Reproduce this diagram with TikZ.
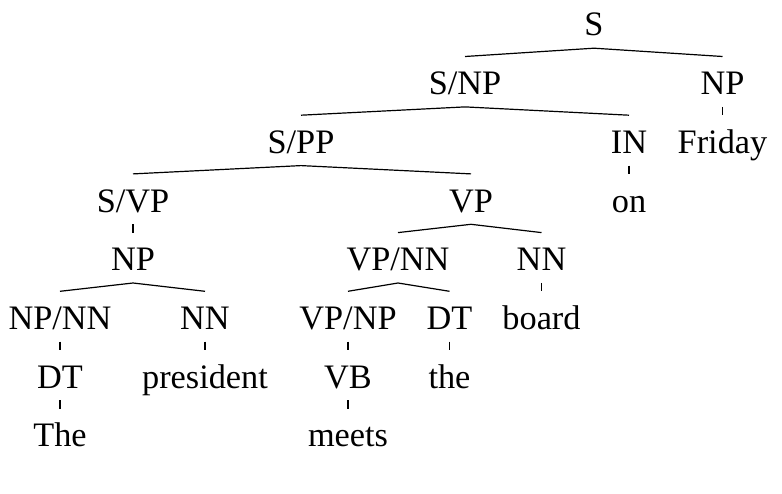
\documentclass[tikz,border=0pt]{standalone}
\usepackage{fontspec}
\setmainfont{Liberation Serif}
\begin{document}
\begin{tikzpicture}[x=1bp,y=-1bp,
  lab/.style={anchor=base,inner xsep=0pt,inner ysep=0pt,text height=38bp,text depth=12bp,
    font=\fontsize{34.3bp}{41bp}\selectfont},
  edge/.style={line width=1.2bp,black}]
\useasboundingbox (0,0) rectangle (782,494);
\def\La{36}\def\Lb{94.7}\def\Lc{153.4}\def\Ld{212.1}\def\Le{270.8}\def\Lf{329.5}\def\Lg{388.2}\def\Lh{446.9}
\node[lab] (S) at (594,\La) {S};
\node[lab] (SNP) at (465,\Lb) {S/NP};
\node[lab] (NPr) at (722.5,\Lb) {NP};
\node[lab] (SPP) at (301,\Lc) {S/PP};
\node[lab] (IN) at (629,\Lc) {IN};
\node[lab] (Friday) at (722.5,\Lc) {Friday};
\node[lab] (SVP) at (133,\Ld) {S/VP};
\node[lab] (VP) at (471,\Ld) {VP};
\node[lab] (on) at (629,\Ld) {on};
\node[lab] (NPl) at (133,\Le) {NP};
\node[lab] (VPNN) at (398,\Le) {VP/NN};
\node[lab] (NNr) at (541.5,\Le) {NN};
\node[lab] (NPNN) at (60,\Lf) {NP/NN};
\node[lab] (NNl) at (205,\Lf) {NN};
\node[lab] (VPNP) at (348,\Lf) {VP/NP};
\node[lab] (DTr) at (449.5,\Lf) {DT};
\node[lab] (board) at (541.5,\Lf) {board};
\node[lab] (DTl) at (60,\Lg) {DT};
\node[lab] (president) at (205,\Lg) {president};
\node[lab] (VB) at (348,\Lg) {VB};
\node[lab] (the) at (449.5,\Lg) {the};
\node[lab] (The) at (60,\Lh) {The};
\node[lab] (meets) at (348,\Lh) {meets};
\draw[edge] (SNP.north) -- (S.south) -- (NPr.north);
\draw[edge] (NPr.south) -- (Friday.north);
\draw[edge] (SPP.north) -- (SNP.south) -- (IN.north);
\draw[edge] (IN.south) -- (on.north);
\draw[edge] (SVP.north) -- (SPP.south) -- (VP.north);
\draw[edge] (SVP.south) -- (NPl.north);
\draw[edge] (VPNN.north) -- (VP.south) -- (NNr.north);
\draw[edge] (NPNN.north) -- (NPl.south) -- (NNl.north);
\draw[edge] (VPNP.north) -- (VPNN.south) -- (DTr.north);
\draw[edge] (NNr.south) -- (board.north);
\draw[edge] (NPNN.south) -- (DTl.north);
\draw[edge] (NNl.south) -- (president.north);
\draw[edge] (VPNP.south) -- (VB.north);
\draw[edge] (DTr.south) -- (the.north);
\draw[edge] (DTl.south) -- (The.north);
\draw[edge] (VB.south) -- (meets.north);
\end{tikzpicture}
\end{document}
